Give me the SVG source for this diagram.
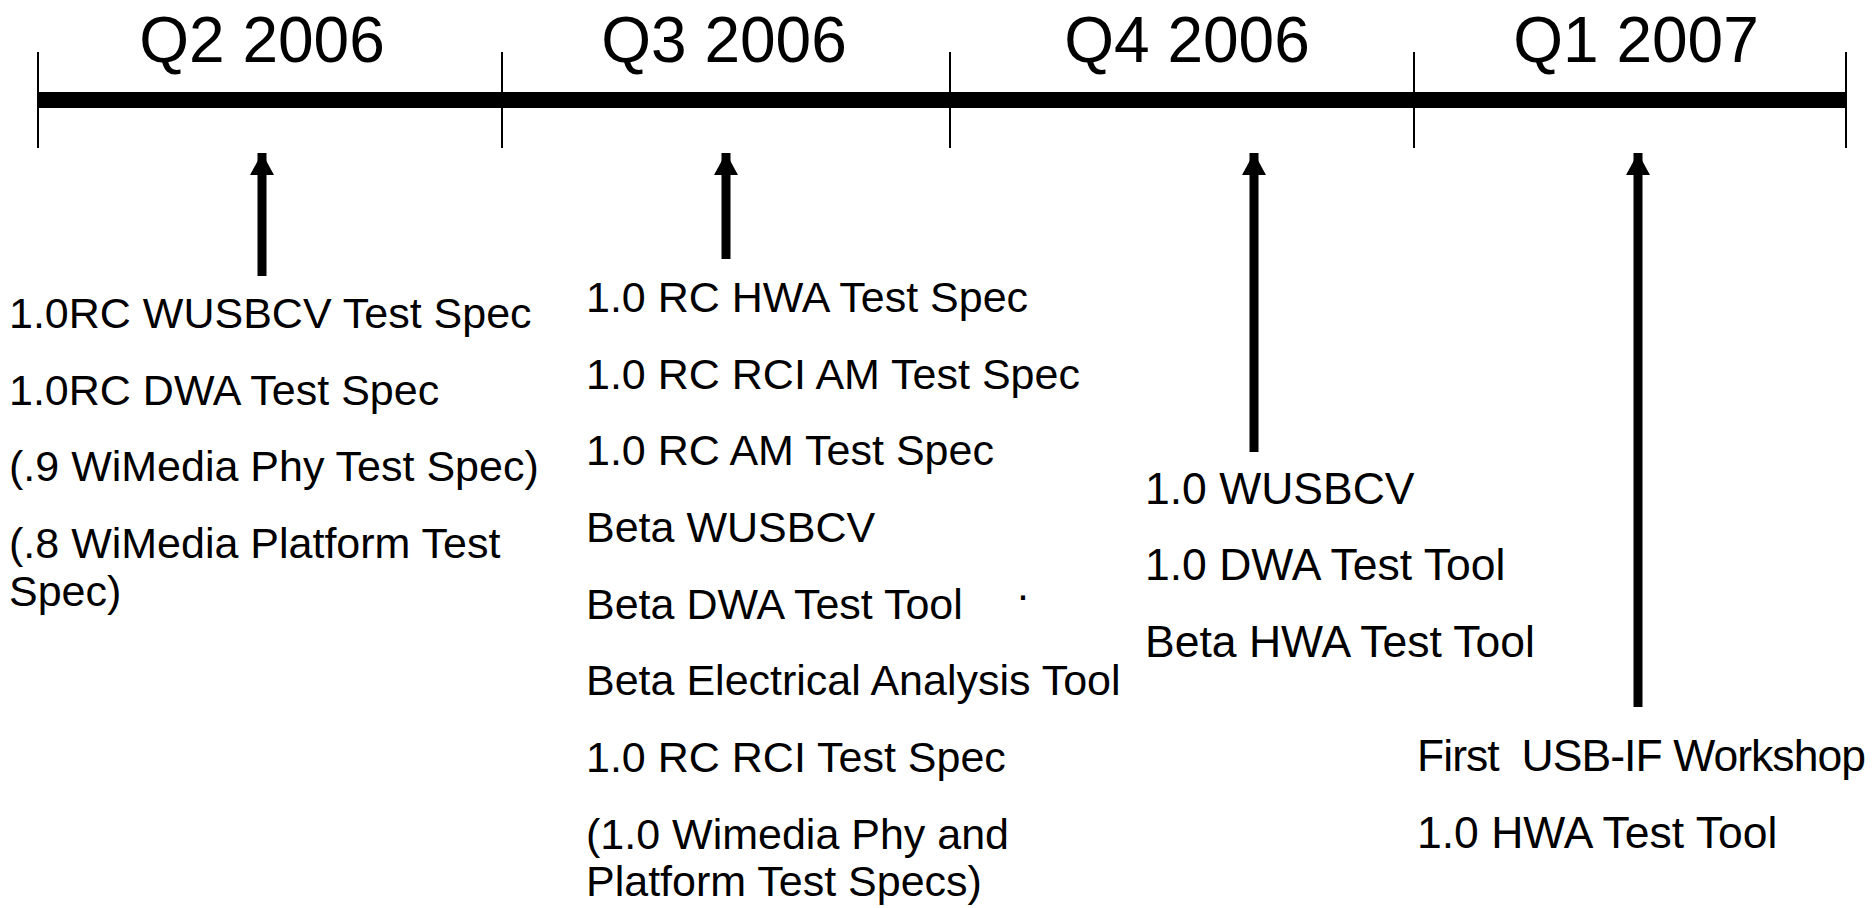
<svg xmlns="http://www.w3.org/2000/svg" width="1873" height="908" viewBox="0 0 1873 908">
<style>
.q{font-family:"Liberation Sans",Arial,sans-serif;font-size:64px;fill:#000;text-anchor:middle}
.t{font-family:"Liberation Sans",Arial,sans-serif;font-size:43px;fill:#000}
.t2{font-family:"Liberation Sans",Arial,sans-serif;font-size:44.5px;fill:#000}
.tick{stroke:#000;stroke-width:2}
.shaft{stroke:#000;stroke-width:9;fill:none}
</style>
<defs>
<marker id="ah" markerUnits="userSpaceOnUse" viewBox="0 0 24 22" refX="12" refY="0" markerWidth="24" markerHeight="22" orient="0" overflow="visible">
<path d="M0,22 L12,0 L24,22 Z" fill="#000"/>
</marker>
</defs>
<rect width="1873" height="908" fill="#fff"/>
<g id="timeline">
<rect x="38" y="92" width="1808" height="16" fill="#000"/>
<line class="tick" x1="38" y1="52" x2="38" y2="148"/>
<line class="tick" x1="502" y1="52" x2="502" y2="148"/>
<line class="tick" x1="950" y1="52" x2="950" y2="148"/>
<line class="tick" x1="1414" y1="52" x2="1414" y2="148"/>
<line class="tick" x1="1846" y1="52" x2="1846" y2="148"/>
<text class="q" x="262" y="62">Q2 2006</text>
<text class="q" x="724" y="62">Q3 2006</text>
<text class="q" x="1187" y="62">Q4 2006</text>
<text class="q" x="1636" y="62">Q1 2007</text>
</g>
<g id="connectors">
<path d="M262,276 L262,153" class="shaft" marker-end="url(#ah)"/>
<path d="M726,259 L726,153" class="shaft" marker-end="url(#ah)"/>
<path d="M1254,452 L1254,153" class="shaft" marker-end="url(#ah)"/>
<path d="M1638,707 L1638,153" class="shaft" marker-end="url(#ah)"/>
</g>
<g id="q2-items">
<text class="t" x="9" y="328">1.0RC WUSBCV Test Spec</text>
<text class="t" x="9" y="405">1.0RC DWA Test Spec</text>
<text class="t" x="9" y="481">(.9 WiMedia Phy Test Spec)</text>
<text class="t" x="9" y="558">(.8 WiMedia Platform Test</text>
<text class="t" x="9" y="606">Spec)</text>
</g>
<g id="q3-items">
<text class="t" x="586" y="312">1.0 RC HWA Test Spec</text>
<text class="t" x="586" y="389">1.0 RC RCI AM Test Spec</text>
<text class="t" x="586" y="465">1.0 RC AM Test Spec</text>
<text class="t" x="586" y="542">Beta WUSBCV</text>
<text class="t" x="586" y="619">Beta DWA Test Tool</text>
<text class="t" x="586" y="695">Beta Electrical Analysis Tool</text>
<text class="t" x="586" y="772">1.0 RC RCI Test Spec</text>
<text class="t" x="586" y="849">(1.0 Wimedia Phy and</text>
<text class="t" x="586" y="896">Platform Test Specs)</text>
<text class="t" x="1017" y="600">.</text>
</g>
<g id="q4-items">
<text class="t2" x="1145" y="504">1.0 WUSBCV</text>
<text class="t2" x="1145" y="580">1.0 DWA Test Tool</text>
<text class="t2" x="1145" y="657">Beta HWA Test Tool</text>
</g>
<g id="q1-items">
<text class="t2" x="1417" y="771" xml:space="preserve" textLength="449" lengthAdjust="spacing">First  USB-IF Workshop</text>
<text class="t2" x="1417" y="848">1.0 HWA Test Tool</text>
</g>
</svg>
